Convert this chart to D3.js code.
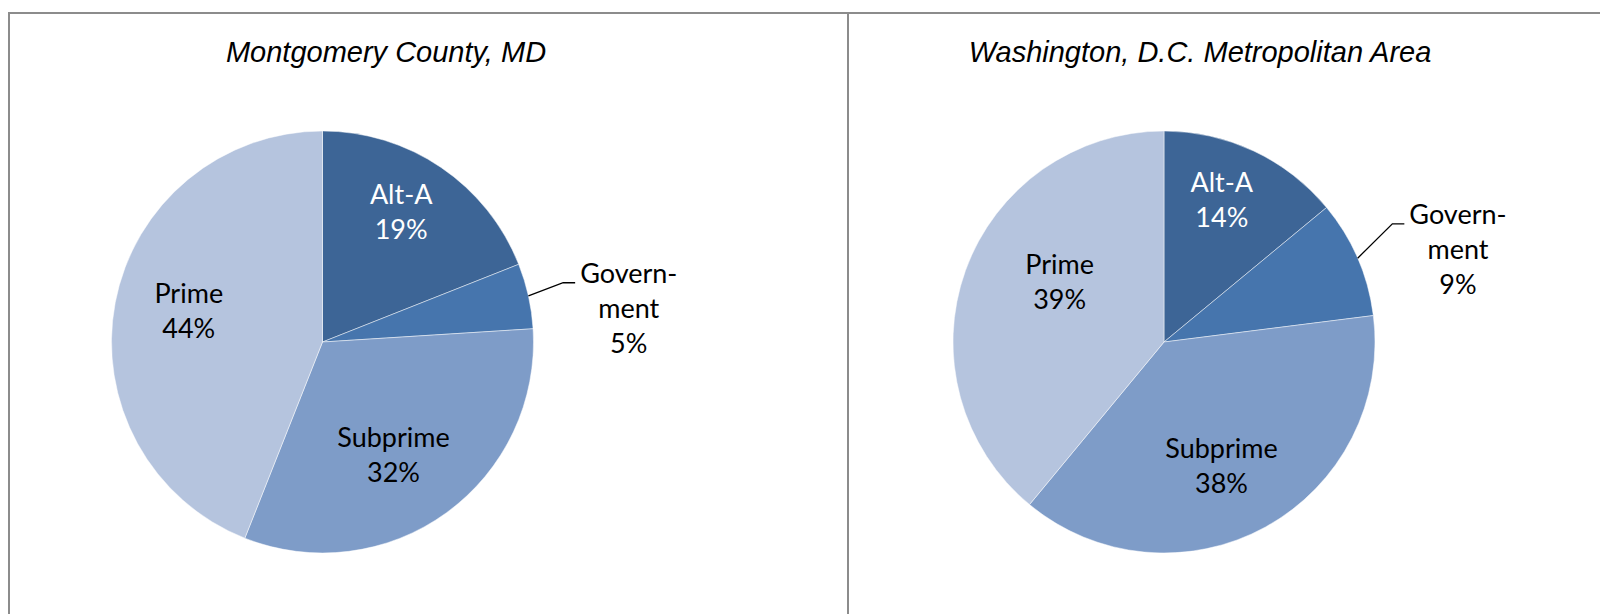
<!DOCTYPE html>
<html lang="en">
<head>
<meta charset="utf-8">
<title>Loan types - Montgomery County and Washington DC</title>
<script src="https://cdn.jsdelivr.net/npm/d3@7"></script>
<style>
  body { margin: 0; background: #fff; }
  .title { font-family: "Liberation Sans", Arial, sans-serif; font-style: italic; font-size: 29px; }
  .lbl { font-family: Lato, "Noto Sans", sans-serif; font-size: 27px; }
</style>
</head>
<body>
<script>
// data
var categories = ["Alt-A", "Government", "Subprime", "Prime"];
var labelLines = [["Alt-A"], ["Govern-", "ment"], ["Subprime"], ["Prime"]];
var montgomeryValues = [19, 5, 32, 44];
var washingtonValues = [14, 9, 38, 39];
var chartTitles = ["Montgomery County, MD", "Washington, D.C. Metropolitan Area"];

var sliceColors = ["#3d6596", "#4675ad", "#7e9cc8", "#b5c4de"];
var textColors = ["#fff", "#000", "#000", "#000"];

var w = 1600, h = 614;
var R = 211;
var lineH = 35;

var svg = d3.select("body").append("svg").attr("width", w).attr("height", h);

// frame lines
var frame = svg.append("g").attr("stroke", "#8c8c8c").attr("stroke-width", 2).attr("fill", "none");
frame.append("path").attr("d", "M9,614V13H1600");
frame.append("line").attr("x1", 848).attr("x2", 848).attr("y1", 13).attr("y2", 614);

// label placement per slice: [radius factor, angle shift in degrees] (Excel "best fit" look)
var panels = [
  {values: montgomeryValues, title: chartTitles[0], cx: 322.5, cy: 342, tx: 386,
   place: [[0.72, -3], [1.46, 6.4], [0.635, 4], [0.65, 2]]},
  {values: washingtonValues, title: chartTitles[1], cx: 1164, cy: 342, tx: 1200,
   place: [[0.725, -3], [1.46, 6], [0.65, 4], [0.57, 10]]}
];

var pie = d3.pie().sort(null).value(function(d){ return d; });
var arc = d3.arc().innerRadius(0).outerRadius(R);

panels.forEach(function(p){
  var g = svg.append("g").attr("transform", "translate(" + p.cx + "," + p.cy + ")");
  var arcs = pie(p.values);

  g.selectAll("path.slice")
    .data(arcs)
    .enter()
    .append("path")
    .attr("class", "slice")
    .attr("d", arc)
    .attr("fill", function(d, i){ return sliceColors[i]; })
    .attr("stroke", "#fff")
    .attr("stroke-opacity", 0.6)
    .attr("stroke-width", 0.8);

  arcs.forEach(function(d, i){
    var lines = labelLines[i].concat([d.value + "%"]);
    var mid = (d.startAngle + d.endAngle) / 2;
    var outside = (i == 1);
    var a = mid + p.place[i][1] * Math.PI / 180;
    var x = Math.sin(a) * R * p.place[i][0];
    var y = -Math.cos(a) * R * p.place[i][0];
    // y is the vertical centre of the block
    var firstBase = y - (lines.length - 1) * lineH / 2 + 9;
    var t = g.append("text")
      .attr("class", "lbl")
      .attr("text-anchor", "middle")
      .attr("fill", textColors[i]);
    lines.forEach(function(s, k){
      t.append("tspan").attr("x", x).attr("y", firstBase + k * lineH).text(s);
    });

    if (outside) {
      var first = t.select("tspan").node();
      var left = x - first.getComputedTextLength() / 2;
      var ex = Math.sin(mid) * R, ey = -Math.cos(mid) * R;
      var ly = firstBase;
      g.append("polyline")
        .attr("points", [[ex, ey], [left - 17, ly], [left - 5, ly]].map(function(q){ return q.join(","); }).join(" "))
        .attr("fill", "none")
        .attr("stroke", "#000")
        .attr("stroke-width", 1.3);
    }
  });

  svg.append("text")
    .attr("class", "title")
    .attr("x", p.tx)
    .attr("y", 62)
    .attr("text-anchor", "middle")
    .text(p.title);
});
</script>
</body>
</html>
